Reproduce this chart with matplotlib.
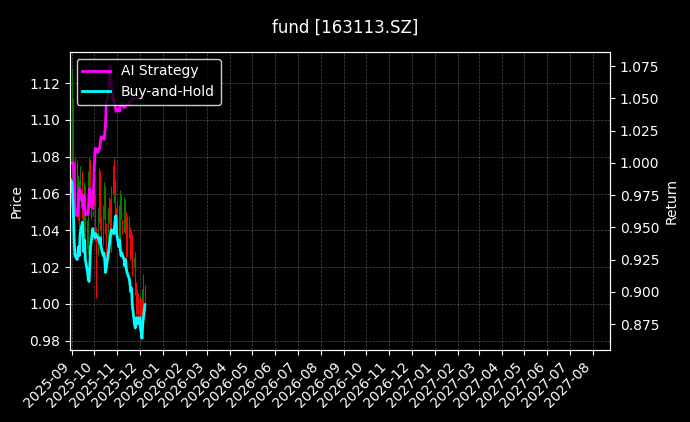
import matplotlib
matplotlib.use("Agg")
import matplotlib.pyplot as plt
import matplotlib.dates as mdates
import matplotlib.ticker as mticker
import numpy as np
import pandas as pd

dates = pd.bdate_range("2025-08-29", periods=72)
close = [1.070,1.110,1.085,1.060,1.050,1.075,1.055,1.065,1.045,1.060,
         1.070,1.050,1.040,1.062,1.055,1.030,1.045,1.068,1.075,1.060,
         1.052,1.065,1.072,1.058,1.040,1.030,1.048,1.060,1.070,1.045,
         1.035,1.050,1.062,1.058,1.042,1.030,1.048,1.055,1.040,1.032,
         1.060,1.075,1.065,1.050,1.040,1.052,1.046,1.035,1.058,1.050,
         1.042,1.055,1.048,1.038,1.030,1.045,1.040,1.028,1.036,1.030,
         1.020,1.025,1.010,0.998,1.005,0.995,1.002,0.992,1.000,0.996,1.008,1.000]
open_ = [1.065] + close[:-1]
high = [1.075,1.128,1.112,1.088,1.062,1.080,1.078,1.070,1.066,1.064,
        1.075,1.072,1.052,1.066,1.064,1.058,1.048,1.072,1.080,1.078,
        1.062,1.068,1.076,1.074,1.060,1.042,1.052,1.064,1.074,1.072,
        1.048,1.054,1.066,1.064,1.060,1.044,1.052,1.058,1.057,1.042,
        1.064,1.080,1.078,1.068,1.052,1.056,1.054,1.048,1.062,1.060,
        1.046,1.058,1.057,1.050,1.040,1.048,1.047,1.042,1.040,1.038,
        1.032,1.028,1.027,1.012,1.008,1.006,1.005,1.004,1.003,1.002,1.016,1.010]
low = [1.062,1.066,1.080,1.055,1.045,1.048,1.050,1.052,1.040,1.042,
       1.056,1.046,1.035,1.036,1.050,1.024,1.027,1.042,1.064,1.056,
       1.046,1.048,1.062,1.054,1.034,1.003,1.026,1.044,1.056,1.040,
       1.030,1.032,1.046,1.054,1.038,1.025,1.026,1.044,1.035,1.028,
       1.028,1.055,1.060,1.045,1.035,1.036,1.042,1.030,1.032,1.046,
       1.038,1.039,1.044,1.034,1.025,1.026,1.036,1.024,1.025,1.026,
       1.015,1.016,1.005,0.994,0.995,0.990,0.992,0.988,0.990,0.992,0.994,0.996]
bh = [0.988,0.985,0.975,0.960,0.940,0.928,0.925,0.930,0.935,0.928,
      0.945,0.954,0.945,0.931,0.940,0.925,0.915,0.910,0.908,0.920,
      0.935,0.949,0.945,0.945,0.942,0.945,0.942,0.940,0.938,0.942,
      0.935,0.928,0.930,0.925,0.915,0.918,0.930,0.935,0.940,0.945,
      0.948,0.945,0.950,0.955,0.959,0.945,0.935,0.940,0.932,0.928,
      0.930,0.925,0.920,0.925,0.918,0.915,0.910,0.905,0.900,0.903,
      0.890,0.875,0.872,0.878,0.880,0.875,0.880,0.872,0.868,0.864,0.875,0.890]
ai = [1.000,1.000,1.000,1.000,0.985,0.965,0.959,0.962,0.975,0.980,
      0.978,0.970,0.965,0.975,0.968,0.960,0.960,0.962,0.975,0.980,
      0.970,0.965,0.980,0.995,1.011,1.011,1.008,1.011,1.011,1.015,
      1.020,1.020,1.018,1.022,1.030,1.045,1.055,1.068,1.075,1.070,
      1.060,1.050,1.045,1.045,1.040,1.040,1.042,1.040,1.045,1.045,
      1.045,1.043,1.043,1.045,1.045,1.045,1.046,1.048,1.048,1.048,
      1.050,1.050,1.050,1.050,1.050,1.050,1.050,1.050]

plt.rcParams['font.family'] = ['DejaVu Sans']
fig = plt.figure(figsize=(6.9, 4.22), dpi=100, facecolor='black')
ax = fig.add_axes([0.101, 0.171, 0.783, 0.706], facecolor='black')
ax2 = ax.twinx()

x = mdates.date2num(dates)
cols = ['green' if c >= o else 'red' for o, c in zip(open_, close)]
ax.vlines(x, low, high, colors=cols, linewidth=0.8)
ax.bar(x, np.array(close) - np.array(open_), bottom=open_, width=0.6, color=cols)

ax2.plot(x[:len(ai)], ai, color='magenta', lw=2, label='AI Strategy')
ax2.plot(x, bh, color='cyan', lw=2, label='Buy-and-Hold')

ax.set_ylim(0.975, 1.137)
ax2.set_ylim(0.855, 1.086)
ax2.yaxis.set_major_locator(mticker.MultipleLocator(0.025))
ax2.yaxis.set_major_formatter(mticker.FormatStrFormatter('%.3f'))
ax.set_xlim(mdates.date2num(pd.Timestamp("2025-08-29")), mdates.date2num(pd.Timestamp("2027-08-24")))
ax.xaxis.set_major_locator(mdates.MonthLocator())
ax.xaxis.set_major_formatter(mdates.DateFormatter('%Y-%m'))
plt.setp(ax.get_xticklabels(), rotation=45, ha='right')
ax.grid(True, color='gray', linestyle='--', linewidth=0.5, alpha=0.6)
ax.set_ylabel('Price', color='white')
ax2.set_ylabel('Return', color='white')
for a in (ax, ax2):
    a.tick_params(colors='white')
    for s in a.spines.values():
        s.set_color('white')
fig.suptitle('fund [163113.SZ]', color='white', y=0.955)
leg = ax2.legend(loc='upper left', facecolor='black', edgecolor='white', framealpha=0.8)
for t in leg.get_texts():
    t.set_color('white')
fig.savefig('out.png', dpi=100, facecolor='black')
